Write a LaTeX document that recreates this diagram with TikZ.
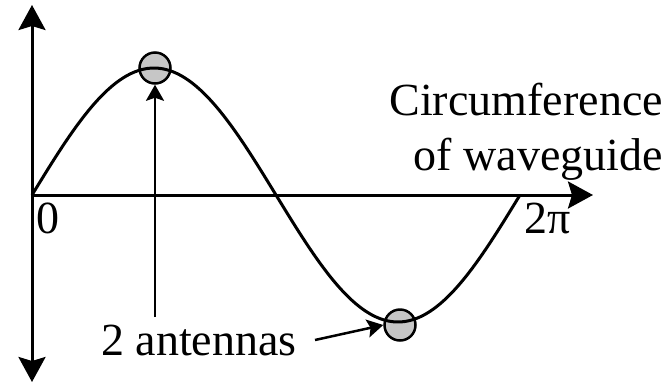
\documentclass[tikz,border=0pt]{standalone}
\usepackage{fontspec}
\setmainfont{Liberation Serif}
\usetikzlibrary{arrows.meta}
\begin{document}
\begin{tikzpicture}[x=1pt,y=-1pt,
  axis/.style={line width=3pt,-{Stealth[length=25pt,width=27pt,inset=4pt]}},
  pointer/.style={line width=2.5pt,-{Stealth[length=16pt,width=18pt,inset=3pt]}},
  antenna/.style={circle,draw,line width=2.5pt,fill=gray!45!white,minimum size=31pt,inner sep=0pt},
  lbl/.style={font=\fontsize{46}{55}\selectfont,inner sep=0pt}]
\useasboundingbox (0,0) rectangle (669,384);
\coordinate (O) at (32,195);
\coordinate (top) at (32,5);
\coordinate (bot) at (32,382);
\coordinate (xend) at (593,195);
\draw[axis] (O) -- (top);
\draw[axis] (O) -- (bot);
\draw[axis] (O) -- (xend);
\node[antenna] (a1) at (155,68) {};
\node[antenna] (a2) at (400,325) {};
\draw[line width=3pt,smooth,samples=120,domain=0:360] plot ({32+\x/360*488},{195-127*sin(\x)});
\node[lbl,anchor=base west] (zero) at (36,233) {0};
\node[lbl,anchor=base west] (twopi) at (524,233) {2π};
\node[lbl,anchor=base east] (c1) at (663,115) {Circumference};
\node[lbl,anchor=base east] (c2) at (663,170) {of waveguide};
\node[lbl,anchor=base west] (ant) at (101,355) {2 antennas};
\coordinate (v0) at (155,317);
\coordinate (h0) at (315,340);
\draw[pointer] (v0) -- (a1.south);
\draw[pointer] (h0) -- (a2.west);
\end{tikzpicture}
\end{document}
